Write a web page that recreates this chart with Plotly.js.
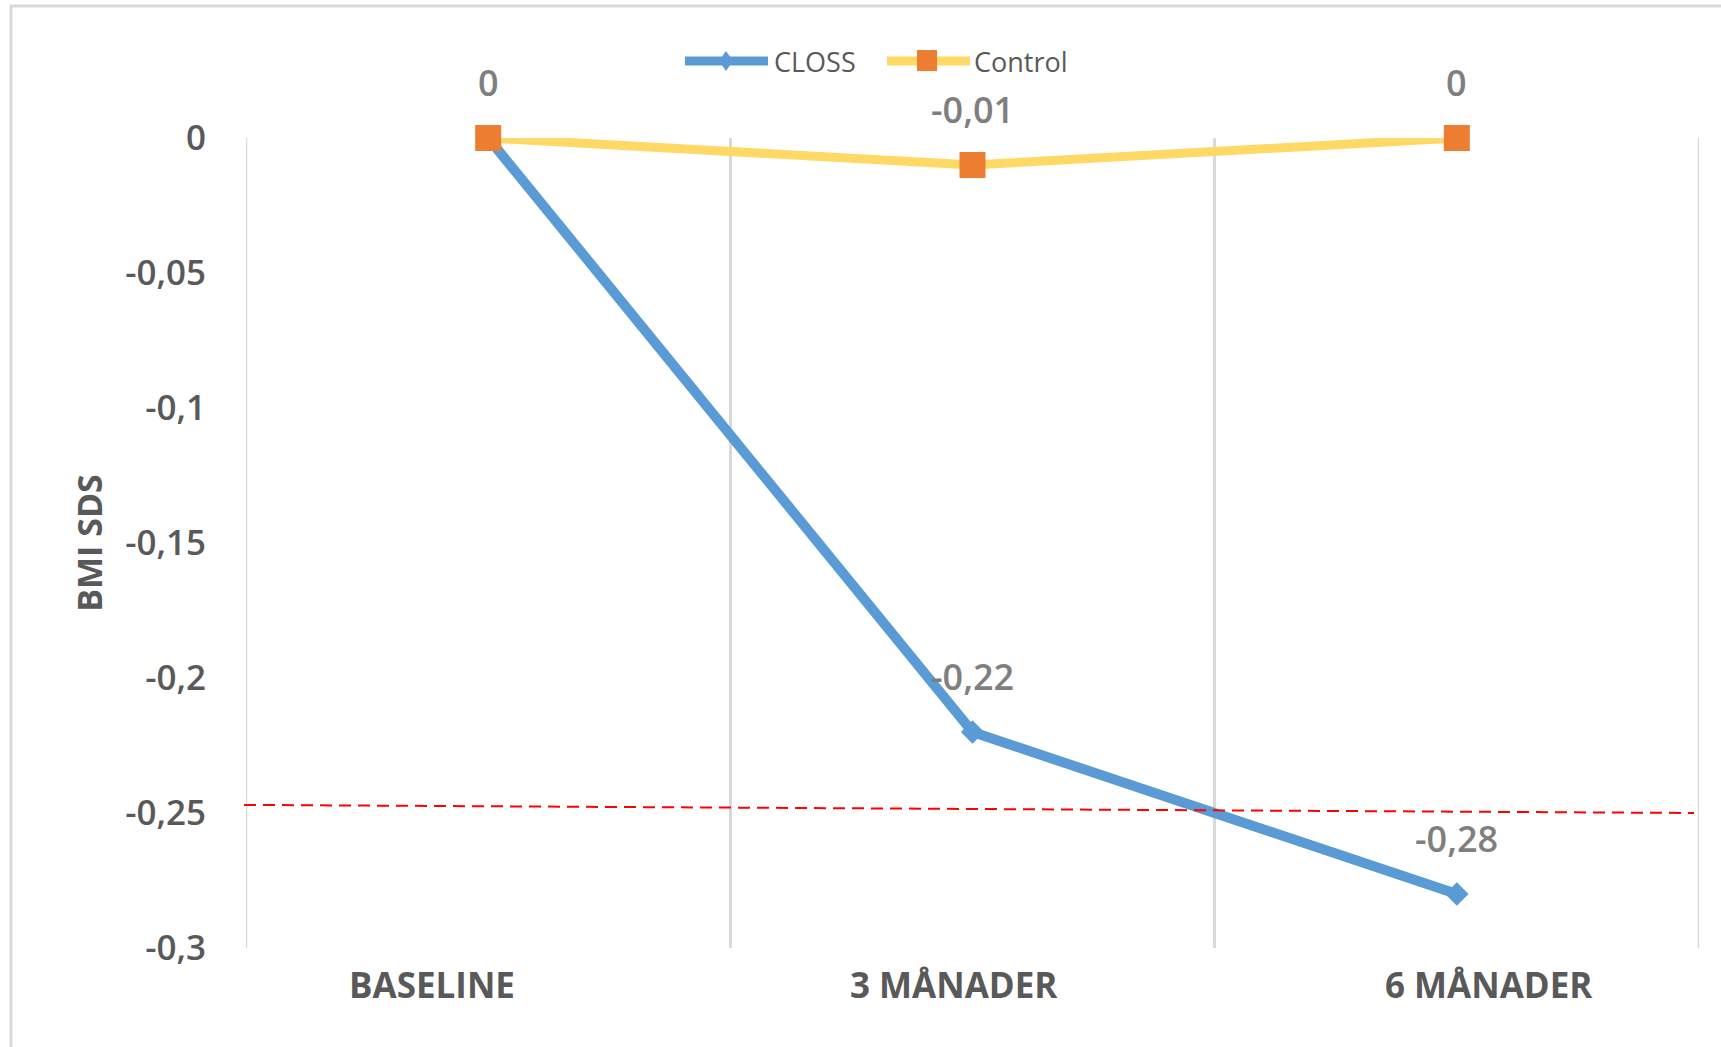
<!DOCTYPE html>
<html><head><meta charset="utf-8">
<script src="https://cdn.plot.ly/plotly-3.0.1.min.js"></script>
<style>html,body{margin:0;padding:0;background:#fff;overflow:hidden;} #chart{width:1721px;height:1047px;}</style>
</head><body><div id="chart"></div>
<script>
// ---- data ----
const categories = ['BASELINE', '3 MÅNADER', '6 MÅNADER'];
const seriesNames = ['CLOSS', 'Control'];
const clossValues = [0, -0.22, -0.28];
const controlValues = [0, -0.01, 0];
const yTickValues = [0, -0.05, -0.1, -0.15, -0.2, -0.25, -0.3];
const yTickLabels = ['0', '-0,05', '-0,1', '-0,15', '-0,2', '-0,25', '-0,3'];
const referenceLine = [-0.247, -0.25];
const yAxisTitle = 'BMI SDS';

// ---- styling / layout helpers ----
const W = 1721, H = 1047;
const M = {l: 246, r: 22, t: 138, b: 99};
const PW = W - M.l - M.r, PH = H - M.t - M.b;
const px = x => (x - M.l) / PW;
const py = y => (H - M.b - y) / PH;
const FONT = '"Open Sans", "Liberation Sans", sans-serif';
const BLUE = '#5B9BD5', YELLOW = '#FFD966', ORANGE = '#ED7D31', GRID = '#D9D9D9';
const fmt = v => String(v).replace('.', ',');
const xIdx = categories.map((_, i) => i);
const boundaries = categories.map((_, i) => i - 0.5).concat([categories.length - 0.5]);

const traces = [
  {
    type: 'scatter', mode: 'lines+markers', name: seriesNames[0],
    x: xIdx, y: clossValues, cliponaxis: false, showlegend: false,
    line: {color: BLUE, width: 10},
    marker: {symbol: 'diamond', size: 18, color: BLUE}
  },
  {
    type: 'scatter', mode: 'lines+markers', name: seriesNames[1],
    x: xIdx, y: controlValues, cliponaxis: false, showlegend: false,
    line: {color: YELLOW, width: 9},
    marker: {symbol: 'square', size: 26, color: ORANGE}
  }
];

const annotations = [];
// data labels
const seen = new Set();
[controlValues, clossValues].forEach(vals => {
  vals.forEach((v, i) => {
    const key = i + '|' + v;
    if (seen.has(key)) return;
    seen.add(key);
    annotations.push({
      x: xIdx[i], y: v, xref: 'x', yref: 'y', text: fmt(v), showarrow: false,
      yshift: 56, yanchor: 'middle', xanchor: 'center',
      font: {family: FONT, size: 36, color: '#7F7F7F', weight: 600}
    });
  });
});
// category labels
const catShift = [-56, -19, 32];
categories.forEach((c, i) => {
  annotations.push({
    x: xIdx[i], y: 0, xref: 'x', yref: 'paper', text: c, showarrow: false,
    xshift: catShift[i], yshift: -36, yanchor: 'middle', xanchor: 'center',
    font: {family: FONT, size: 35, color: '#595959', weight: 700}
  });
});
// legend text
annotations.push({x: px(772), y: py(61), xref: 'paper', yref: 'paper', text: seriesNames[0],
  showarrow: false, xanchor: 'left', yanchor: 'middle', font: {family: FONT, size: 27, color: '#595959'}});
annotations.push({x: px(972), y: py(61), xref: 'paper', yref: 'paper', text: seriesNames[1],
  showarrow: false, xanchor: 'left', yanchor: 'middle', font: {family: FONT, size: 27, color: '#595959'}});

const shapes = [
  // chart frame (left + top)
  {type: 'path', xref: 'paper', yref: 'paper', layer: 'below',
   path: `M ${px(11)},${py(H + 5)} L ${px(11)},${py(6)} L ${px(W + 5)},${py(6)}`,
   line: {color: GRID, width: 3}},
  // outer category-boundary gridlines (Plotly hides grid at plot edges)
  {type: 'line', xref: 'x', yref: 'paper', layer: 'below', x0: boundaries[0], x1: boundaries[0], y0: 0, y1: 1,
   line: {color: GRID, width: 2.5}},
  {type: 'line', xref: 'x', yref: 'paper', layer: 'below', x0: boundaries[boundaries.length - 1], x1: boundaries[boundaries.length - 1], y0: 0, y1: 1,
   line: {color: GRID, width: 2.5}},
  // reference dashed line
  {type: 'line', xref: 'paper', yref: 'y', x0: px(244), x1: px(1694), y0: referenceLine[0], y1: referenceLine[1],
   layer: 'above', line: {color: '#FF0000', width: 2, dash: '12px,7px'}},
  // legend: CLOSS
  {type: 'line', xref: 'paper', yref: 'paper', x0: px(685), x1: px(768), y0: py(61), y1: py(61),
   line: {color: BLUE, width: 9}},
  {type: 'path', xref: 'paper', yref: 'paper', fillcolor: BLUE, line: {width: 0},
   path: `M ${px(726)},${py(51)} L ${px(733)},${py(61)} L ${px(726)},${py(71)} L ${px(719)},${py(61)} Z`},
  // legend: Control
  {type: 'line', xref: 'paper', yref: 'paper', x0: px(887), x1: px(970), y0: py(61), y1: py(61),
   line: {color: YELLOW, width: 9}},
  {type: 'rect', xref: 'paper', yref: 'paper', x0: px(917), x1: px(937), y0: py(50), y1: py(71),
   fillcolor: ORANGE, line: {width: 0}}
];

const layout = {
  width: W, height: H,
  margin: M,
  paper_bgcolor: '#FFFFFF', plot_bgcolor: '#FFFFFF',
  showlegend: false,
  xaxis: {
    type: 'linear', range: [-0.5, categories.length - 0.5], tickvals: boundaries,
    showgrid: true, gridcolor: GRID, gridwidth: 2.5,
    showticklabels: false, ticks: '', zeroline: false, showline: false, fixedrange: true
  },
  yaxis: {
    range: [-0.3, 0], tickvals: yTickValues, ticktext: yTickLabels,
    showgrid: false, zeroline: false, showline: false,
    ticks: 'outside', ticklen: 32, tickcolor: 'rgba(0,0,0,0)',
    tickfont: {family: FONT, size: 35, color: '#595959', weight: 600},
    title: {text: yAxisTitle, standoff: 12, font: {family: FONT, size: 34, color: '#595959', weight: 700}},
    automargin: false, fixedrange: true
  },
  annotations: annotations,
  shapes: shapes
};

Plotly.newPlot('chart', traces, layout, {displayModeBar: false, staticPlot: true});
</script>
</body></html>
